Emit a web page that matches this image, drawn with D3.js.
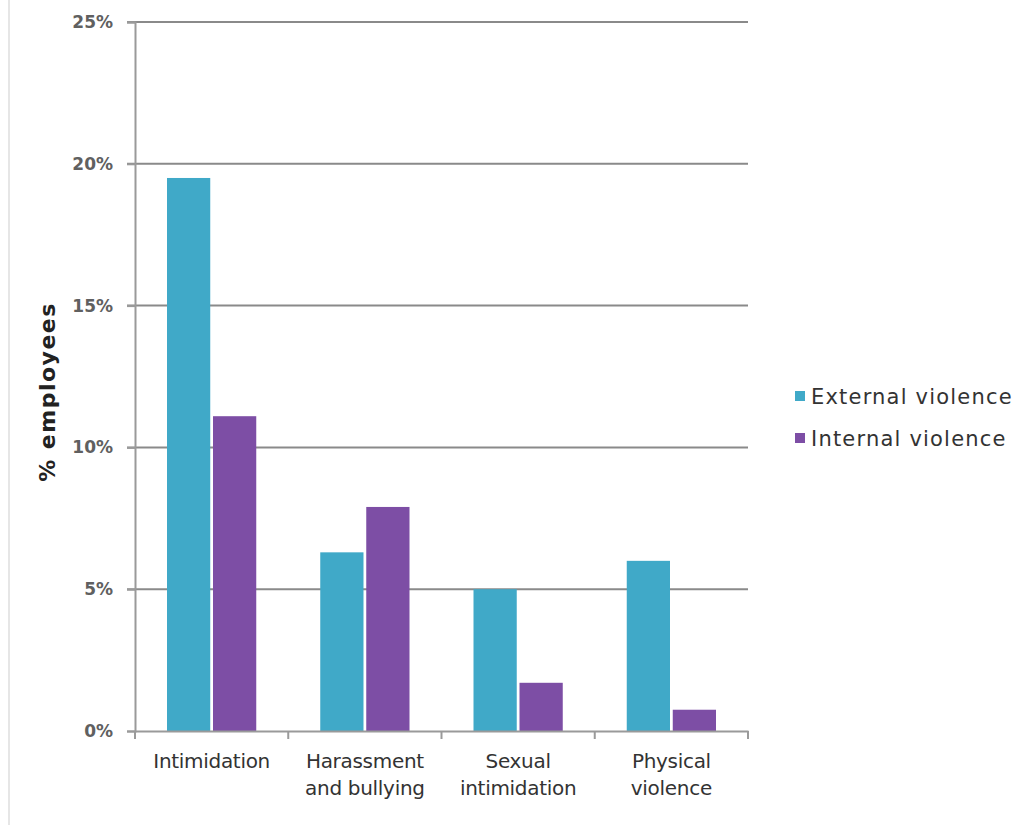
<!DOCTYPE html>
<html>
<head>
<meta charset="utf-8">
<script src="https://cdn.jsdelivr.net/npm/d3@7"></script>
<style>
  body { margin: 0; background: #fff; }
  text { font-family: "DejaVu Sans", Verdana, sans-serif; }
</style>
</head>
<body>
<div id="chart"></div>
<script>
// Data
const categories = [["Intimidation"], ["Harassment", "and bullying"], ["Sexual", "intimidation"], ["Physical", "violence"]];
const seriesNames = ["External violence", "Internal violence"];
const externalValues = [19.5, 6.3, 5.0, 6.0];
const internalValues = [11.1, 7.9, 1.7, 0.75];
const yTicks = [0, 5, 10, 15, 20, 25];
const colors = ["#40A9C8", "#7D4EA5"];

const W = 1029, H = 825;
const margin = { top: 22, right: 281, bottom: 94, left: 135 },
    width = W - margin.left - margin.right,
    height = H - margin.top - margin.bottom;

const svg = d3.select("#chart")
    .append("svg")
    .attr("width", W)
    .attr("height", H);

// faint page border at left
svg.append("line")
    .attr("x1", 9).attr("x2", 9).attr("y1", 0).attr("y2", H)
    .attr("stroke", "#e6e6e6").attr("stroke-width", 2);

const g = svg.append("g")
    .attr("transform", `translate(${margin.left},${margin.top})`);

const labels = categories.map(d => d.join(" "));
const x0 = d3.scaleBand().domain(labels).range([0, width]).paddingInner(0).paddingOuter(0);
const x1 = d3.scaleBand().domain(seriesNames).range([32, x0.bandwidth() - 32]).paddingInner(0.06);
const y = d3.scaleLinear().domain([0, 25]).range([height, 0]);

// gridlines
g.selectAll("line.grid")
    .data(yTicks.filter(t => t > 0))
    .enter().append("line")
    .attr("class", "grid")
    .attr("x1", -8).attr("x2", width)
    .attr("y1", d => y(d)).attr("y2", d => y(d))
    .attr("stroke", "#8a8a8a").attr("stroke-width", 2);

// y axis
const yAxis = g.append("g")
    .call(d3.axisLeft(y).tickValues(yTicks).tickFormat(d => d + "%").tickSize(8).tickPadding(14));
yAxis.select(".domain").attr("stroke", "#9a9a9a").attr("stroke-width", 2);
yAxis.selectAll(".tick line").attr("stroke", "#9a9a9a").attr("stroke-width", 2);
yAxis.selectAll(".tick text").attr("fill", "#606060").attr("font-size", 17).attr("font-weight", "bold");

// bars
const rows = labels.map((c, i) => ({ cat: c, vals: [externalValues[i], internalValues[i]] }));
const groups = g.selectAll("g.cat")
    .data(rows)
    .enter().append("g")
    .attr("class", "cat")
    .attr("transform", d => `translate(${x0(d.cat)},0)`);
groups.selectAll("rect")
    .data(d => d.vals.map((v, j) => ({ key: seriesNames[j], v, j })))
    .enter().append("rect")
    .attr("x", d => x1(d.key))
    .attr("width", x1.bandwidth())
    .attr("y", d => y(d.v))
    .attr("height", d => height - y(d.v))
    .attr("fill", d => colors[d.j]);

// x axis
const xAxis = g.append("g")
    .attr("transform", `translate(0,${height})`)
    .call(d3.axisBottom(x0).tickSize(0).tickFormat(""));
xAxis.select(".domain").attr("stroke", "#9a9a9a").attr("stroke-width", 2);
g.selectAll("line.xtick")
    .data(d3.range(labels.length + 1))
    .enter().append("line")
    .attr("class", "xtick")
    .attr("x1", i => i * x0.bandwidth()).attr("x2", i => i * x0.bandwidth())
    .attr("y1", height).attr("y2", height + 8)
    .attr("stroke", "#9a9a9a").attr("stroke-width", 2);

// category labels
const catText = g.selectAll("text.cat")
    .data(categories)
    .enter().append("text")
    .attr("class", "cat")
    .attr("x", (d, i) => x0(labels[i]) + x0.bandwidth() / 2)
    .attr("y", height + 37)
    .attr("text-anchor", "middle")
    .attr("font-size", 20)
    .attr("letter-spacing", -0.3)
    .attr("fill", "#333");
catText.selectAll("tspan")
    .data(d => d)
    .enter().append("tspan")
    .attr("x", function () { return d3.select(this.parentNode).attr("x"); })
    .attr("dy", (d, i) => i === 0 ? 0 : 27)
    .text(d => d);

// y axis title
svg.append("text")
    .attr("transform", `translate(55,392) rotate(-90)`)
    .attr("text-anchor", "middle")
    .attr("font-size", 22)
    .attr("font-weight", "bold")
    .attr("letter-spacing", 1.5)
    .attr("fill", "#222")
    .text("% employees");

// legend
const legend = svg.append("g").attr("transform", "translate(795,396)");
seriesNames.forEach((s, i) => {
    const row = legend.append("g").attr("transform", `translate(0,${i * 42})`);
    row.append("rect").attr("x", 0).attr("y", -5).attr("width", 10).attr("height", 10).attr("fill", colors[i]);
    row.append("text").attr("x", 16).attr("y", 8)
        .attr("font-size", 21).attr("letter-spacing", 1.2).attr("fill", "#333").text(s);
});
</script>
</body>
</html>
